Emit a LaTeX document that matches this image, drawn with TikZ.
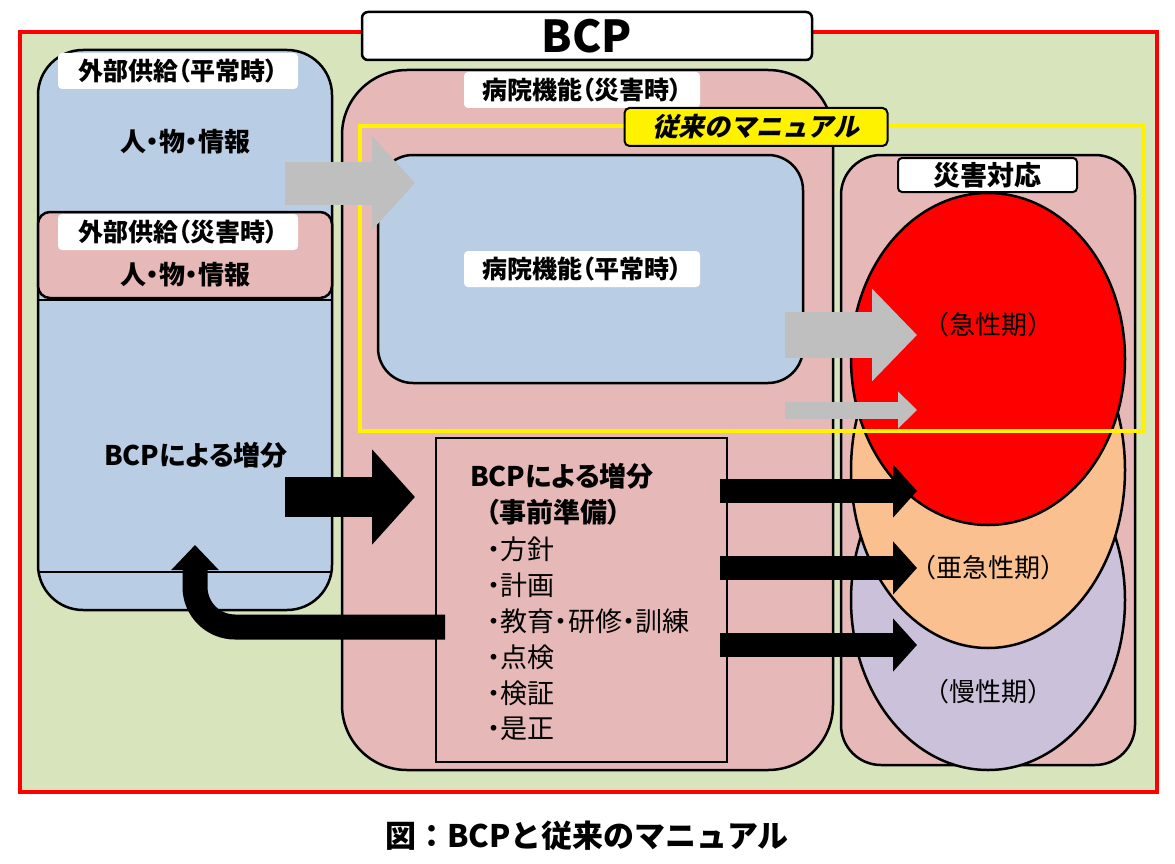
\documentclass[tikz,border=0pt]{standalone}
\usepackage{fontspec}
\setmainfont{Noto Sans CJK JP}
\newfontfamily\propfont[CharacterWidth=AlternateProportional]{Noto Sans CJK JP}
\newfontfamily\manualfont[FakeSlant=0.22]{Noto Sans CJK JP}
\usetikzlibrary{arrows.meta, positioning, shapes.geometric}
\definecolor{bggreen}{RGB}{216,228,188}
\definecolor{boxblue}{RGB}{185,205,229}
\definecolor{boxpink}{RGB}{230,185,184}
\definecolor{acuteorange}{RGB}{250,192,144}
\definecolor{chronicpurple}{RGB}{204,193,218}
\definecolor{arrowgray}{RGB}{191,191,191}
\tikzset{
    panel/.style={draw, line width=2.5pt, inner sep=0pt},
    bluepanel/.style={panel, fill=boxblue},
    pinkpanel/.style={panel, fill=boxpink},
    tag/.style={fill=white, rounded corners=4pt, inner sep=0pt, minimum height=36pt, font=\propfont\fontsize{25}{28}\selectfont\bfseries},
    boldtext/.style={inner sep=0pt, font=\propfont\fontsize{26}{30}\selectfont\bfseries},
    itemtext/.style={inner sep=0pt, anchor=west, font=\propfont\fontsize{27}{30}\selectfont},
    phase/.style={draw, ellipse, line width=2.5pt, minimum width=274pt, inner sep=0pt},
    phaselabel/.style={inner sep=0pt, font=\fontsize{26}{30}\selectfont},
    grayarrow/.style={draw=arrowgray},
    blackarrow/.style={draw=black},
}

\begin{document}
\begin{tikzpicture}[x=1pt, y=-1pt]
    \useasboundingbox (0,0) rectangle (1175,864);
    % BCP frame
    \node[draw=red, line width=3.5pt, fill=bggreen, minimum width=1137pt, minimum height=760pt, inner sep=0pt] (bcpframe) at (588.5,412) {};
    \node[draw, fill=white, line width=2.5pt, rounded corners=6pt, minimum width=450pt, minimum height=48pt, inner sep=0pt, font=\fontsize{44}{48}\selectfont\bfseries] (bcptitle) at (587,36) {BCP};

    % External supply
    \node[bluepanel, rounded corners=45pt, minimum width=294pt, minimum height=560pt] (supply) at (185,330) {};
    \draw[line width=2.5pt] (38,572) -- (332,572);
    \draw[line width=2.5pt] (38,300) -- (332,300);
    \node[tag, minimum width=240pt] (supplynormal) at (178,71) {外部供給（平常時）};
    \node[boldtext] (goodsnormal) at (185,142) {人・物・情報};
    \node[pinkpanel, rounded corners=12pt, minimum width=294pt, minimum height=86pt] (supplydisaster) at (185,255) {};
    \node[tag, minimum width=240pt] (supplydisastertag) at (178,232) {外部供給（災害時）};
    \node[boldtext] (goodsdisaster) at (185,275) {人・物・情報};
    \node[boldtext, font=\propfont\fontsize{27}{30}\selectfont\bfseries] (supplybcp) at (196,455) {BCPによる増分};

    % Hospital function
    \node[pinkpanel, rounded corners=65pt, minimum width=491pt, minimum height=700pt] (hospital) at (587.5,420) {};
    \node[tag, minimum width=236pt] (hospitaltag) at (582,90) {病院機能（災害時）};
    \node[bluepanel, rounded corners=35pt, minimum width=425pt, minimum height=228pt] (routine) at (590.5,269) {};
    \node[tag, minimum width=236pt] (routinetag) at (582,269) {病院機能（平常時）};

    % BCP preparation
    \node[panel, fill=boxpink, minimum width=291pt, minimum height=324pt] (prep) at (581.5,600) {};
    \node[itemtext, font=\propfont\fontsize{27}{30}\selectfont\bfseries] (preptitle) at (470,476) {BCPによる増分};
    \node[itemtext, font=\propfont\fontsize{27}{30}\selectfont\bfseries] (prepsub) at (486,512) {（事前準備）};
    \foreach \txt [count=\i] in {方針, 計画, 教育・研修・訓練, 点検, 検証, 是正}
        \node[itemtext] (prepitem\i) at (487,513+36*\i) {・\txt};

    % Disaster response
    \node[pinkpanel, rounded corners=40pt, minimum width=294pt, minimum height=610pt] (response) at (988,460) {};
    \node[phase, fill=chronicpurple, minimum height=340pt] (chronic) at (988,600) {};
    \node[phase, fill=acuteorange, minimum height=356pt] (subacute) at (988,470) {};
    \node[phase, fill=red, minimum height=332pt] (acute) at (988,359) {};
    \node[tag, draw, line width=2pt, minimum width=179pt, minimum height=34pt, font=\fontsize{27}{30}\selectfont\bfseries] (responsetag) at (987.5,175) {災害対応};
    \node[phaselabel] (acutelabel) at (988,325) {（急性期）};
    \node[phaselabel] (subacutelabel) at (988,568) {（亜急性期）};
    \node[phaselabel] (chroniclabel) at (988,692) {（慢性期）};

    % Conventional manual
    \node[draw=yellow, line width=4pt, minimum width=783pt, minimum height=305pt, inner sep=0pt] (manual) at (751.5,278.5) {};
    \node[draw, fill=yellow, line width=2pt, rounded corners=5pt, minimum width=263pt, minimum height=38pt, inner sep=0pt, font=\manualfont\fontsize{26}{30}\selectfont\bfseries] (manualtag) at (756,127) {従来のマニュアル};

    % Arrow ends
    \coordinate (grayAfrom) at (285,183);
    \coordinate (grayAto) at (415,183);
    \coordinate (grayBfrom) at (785,335);
    \coordinate (grayBto) at (917,335);
    \coordinate (grayCfrom) at (785,410);
    \coordinate (grayCto) at (917,410);
    \coordinate (bcpfrom) at (285,497);
    \coordinate (bcpto) at (415,497);
    \coordinate (loopfrom) at (445,627);
    \coordinate (loopcorner) at (195,627);
    \coordinate (loopto) at (195,545);
    \foreach \y/\target in {491/acute, 568/subacute, 645/chronic} {
        \coordinate (prepto\target) at (720,\y);
        \coordinate (phasein\target) at (917,\y);
    }

    % Flows
    \draw[grayarrow, line width=43pt, -{Triangle[length=43pt, width=92pt]}] (grayAfrom) -- (grayAto);
    \draw[grayarrow, line width=46pt, -{Triangle[length=45pt, width=90pt]}] (grayBfrom) -- (grayBto);
    \draw[grayarrow, line width=17pt, -{Triangle[length=19pt, width=36pt]}] (grayCfrom) -- (grayCto);
    \draw[blackarrow, line width=40pt, -{Triangle[length=43pt, width=93pt]}] (bcpfrom) -- (bcpto);
    \foreach \target in {acute, subacute, chronic}
        \draw[blackarrow, line width=24pt, -{Triangle[length=24pt, width=52pt]}] (prepto\target) -- (phasein\target);
    \draw[blackarrow, line width=25pt, rounded corners=40pt, -{Triangle[length=25pt, width=46pt]}] (loopfrom) -- (loopcorner) -- (loopto);

    % Caption
    \node[font=\fontsize{31}{34}\selectfont\bfseries, inner sep=0pt] (caption) at (587,836) {図：BCPと従来のマニュアル};
\end{tikzpicture}
\end{document}
